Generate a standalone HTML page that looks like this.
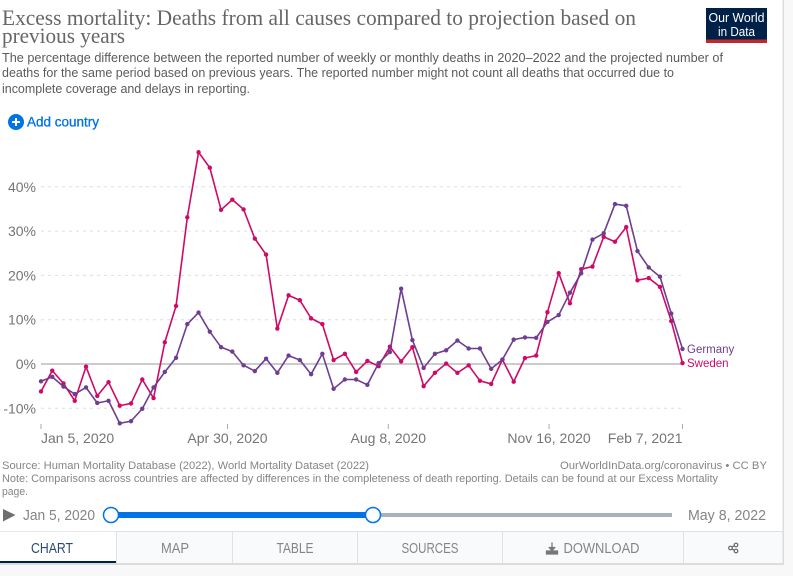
<!DOCTYPE html>
<html lang="en">
<head>
<meta charset="utf-8">
<title>Excess mortality chart</title>
<style>
html,body{margin:0;padding:0;width:793px;height:576px;overflow:hidden;background:#f8f8f8;}
svg{display:block;}
text{font-family:"Liberation Sans",sans-serif;}
.ttl{font-family:"Liberation Serif",serif;font-size:22px;fill:#666;}
.sub{font-size:12.5px;fill:#5b5b5b;}
.foot{font-size:11px;fill:#858585;}
.tab{font-size:14.5px;fill:#858585;text-anchor:middle;}
.tick{font-size:14px;fill:#757575;}
</style>
</head>
<body>
<svg id="root" xmlns="http://www.w3.org/2000/svg" width="793" height="576" viewBox="0 0 793 576">
  <rect x="0" y="0" width="793" height="576" fill="#f8f8f8"/>
  <rect x="0" y="0" width="784" height="565" fill="#dcdcdc"/>
  <rect x="0" y="0" width="782.5" height="563" fill="#ffffff"/>

  <text class="ttl" x="2" y="25" textLength="634" lengthAdjust="spacingAndGlyphs">Excess mortality: Deaths from all causes compared to projection based on</text>
  <text class="ttl" x="2" y="43" textLength="123" lengthAdjust="spacingAndGlyphs">previous years</text>
  <text class="sub" x="2" y="62" textLength="721" lengthAdjust="spacingAndGlyphs">The percentage difference between the reported number of weekly or monthly deaths in 2020–2022 and the projected number of</text>
  <text class="sub" x="2" y="77" textLength="672" lengthAdjust="spacingAndGlyphs">deaths for the same period based on previous years. The reported number might not count all deaths that occurred due to</text>
  <text class="sub" x="2" y="93" textLength="248" lengthAdjust="spacingAndGlyphs">incomplete coverage and delays in reporting.</text>

  <g>
    <rect x="706" y="8" width="61" height="35" fill="#002147"/>
    <rect x="706" y="39.5" width="61" height="3.5" fill="#c0282d"/>
    <text x="736.5" y="22" text-anchor="middle" font-size="13" fill="#fff" textLength="56" lengthAdjust="spacingAndGlyphs">Our World</text>
    <text x="736.5" y="36" text-anchor="middle" font-size="13" fill="#fff" textLength="37" lengthAdjust="spacingAndGlyphs">in Data</text>
  </g>

  <g>
    <circle cx="16" cy="122" r="8" fill="#0073e6"/>
    <path d="M16 118v8M12 122h8" stroke="#fff" stroke-width="2"/>
    <text x="27" y="126.5" font-size="13.5" fill="#0073e6" stroke="#0073e6" stroke-width="0.3" textLength="72" lengthAdjust="spacingAndGlyphs">Add country</text>
  </g>

  <g id="plot"></g>

  <text class="foot" x="2" y="469" textLength="367" lengthAdjust="spacingAndGlyphs">Source: Human Mortality Database (2022), World Mortality Dataset (2022)</text>
  <text class="foot" x="560" y="469" textLength="207" lengthAdjust="spacingAndGlyphs">OurWorldInData.org/coronavirus • CC BY</text>
  <text class="foot" x="2" y="482" textLength="716" lengthAdjust="spacingAndGlyphs">Note: Comparisons across countries are affected by differences in the completeness of death reporting. Details can be found at our Excess Mortality</text>
  <text class="foot" x="2" y="495" textLength="26" lengthAdjust="spacingAndGlyphs">page.</text>

  <g>
    <path d="M3 509L15.5 515L3 521.5Z" fill="#6e6e6e"/>
    <text x="23" y="520" font-size="14.5" fill="#858585" textLength="72" lengthAdjust="spacingAndGlyphs">Jan 5, 2020</text>
    <rect x="111" y="513" width="561" height="4" fill="#a7b2bf"/>
    <rect x="111" y="512" width="262" height="6" fill="#0073e6"/>
    <circle cx="111" cy="515" r="7.5" fill="#fff" stroke="#0073e6" stroke-width="1.5"/>
    <circle cx="373" cy="515" r="7.5" fill="#fff" stroke="#0073e6" stroke-width="1.5"/>
    <text x="688" y="520" font-size="14.5" fill="#858585" textLength="78" lengthAdjust="spacingAndGlyphs">May 8, 2022</text>
  </g>

  <g>
    <rect x="116" y="531" width="666.5" height="32" fill="#f9fafb"/>
    <path d="M116.5 531V563M232.5 531V563M357.5 531V563M502.5 531V563M683.5 531V563M116 531.5H782.5" stroke="#dfe1e4" stroke-width="1" fill="none"/>
    <path d="M0 531.5H116" stroke="#e8e8e8" stroke-width="1"/>
    <rect x="0" y="561" width="116" height="2" fill="#002147"/>
    <text class="tab" x="52" y="553" style="fill:#2d4a6e" textLength="42" lengthAdjust="spacingAndGlyphs">CHART</text>
    <text class="tab" x="175" y="553" textLength="28" lengthAdjust="spacingAndGlyphs">MAP</text>
    <text class="tab" x="295" y="553" textLength="37" lengthAdjust="spacingAndGlyphs">TABLE</text>
    <text class="tab" x="430" y="553" textLength="57" lengthAdjust="spacingAndGlyphs">SOURCES</text>
    <g>
      <path d="M552 542.5V550M548.8 547L552 550.5L555.2 547M546.5 551H557.5V554H546.5Z" stroke="#777" stroke-width="1.3" fill="#777"/>
      <text class="tab" x="601.5" y="553" textLength="76" lengthAdjust="spacingAndGlyphs">DOWNLOAD</text>
    </g>
    <g fill="none" stroke="#666" stroke-width="1.2">
      <circle cx="730.5" cy="548" r="1.8"/>
      <circle cx="736" cy="545" r="1.8"/>
      <circle cx="736" cy="551" r="1.8"/>
      <path d="M732 547L734.5 545.7M732 549L734.5 550.3"/>
    </g>
  </g>
</svg>
<script>
const startDate = "Jan 5, 2020";
const weekCount = 58;
const sweden = [-6.2,-1.5,-4.4,-8.3,-0.6,-7.2,-4.1,-9.4,-8.9,-3.5,-7.7,4.9,13.1,33.1,47.8,44.3,34.8,37.1,34.9,28.3,24.7,8.0,15.5,14.4,10.3,9.0,0.9,2.3,-1.8,0.7,-0.5,3.9,0.6,3.8,-5.0,-2.0,0.1,-2.0,-0.3,-3.8,-4.5,1.0,-4.0,1.35,1.9,11.7,20.5,13.7,21.4,22.0,28.7,27.6,30.9,18.9,19.4,17.4,9.7,0.2];
const germany = [-3.9,-2.9,-5.1,-6.8,-5.3,-8.8,-8.3,-13.4,-12.9,-10.1,-5.3,-1.8,1.4,9.0,11.6,7.3,3.8,2.8,-0.3,-1.6,1.2,-2.0,1.9,0.9,-2.3,2.3,-5.6,-3.5,-3.5,-4.7,0.2,2.7,17.0,5.4,-0.9,2.3,3.1,5.3,3.5,3.5,-1.1,1.0,5.5,6.0,5.9,9.5,11.05,16.1,20.5,28.1,29.5,36.1,35.7,25.5,21.8,19.7,11.4,3.4];
const yTickValues = [-10,0,10,20,30,40];
const yTickLabels = ["-10%","0%","10%","20%","30%","40%"];
const xTickDays = [0,116,216,316,399];
const xTickLabels = ["Jan 5, 2020","Apr 30, 2020","Aug 8, 2020","Nov 16, 2020","Feb 7, 2021"];
const seriesNames = ["Sweden","Germany"];

const NS = "http://www.w3.org/2000/svg";
const plot = document.getElementById("plot");
const X0 = 41, X1 = 682.5, LAST_DAY = 399;
const Y_ZERO = 364, PX_PER_PCT = 4.43;
const xScale = function (day) { return X0 + (X1 - X0) * day / LAST_DAY; };
const yScale = function (v) { return Y_ZERO - v * PX_PER_PCT; };
const colors = { Sweden: "#cf0a66", Germany: "#6d3e91" };

function make(tag, parent) {
  const el = document.createElementNS(NS, tag);
  parent.appendChild(el);
  return el;
}

const yAxis = make("g", plot);


yTickValues.forEach(function (v, i) {
  const y = yScale(v);
  const line = make("line", yAxis);
  
  
  line.setAttribute("x1", X0);
  line.setAttribute("x2", X1);
  line.setAttribute("y1", y);
  line.setAttribute("y2", y);
  line.setAttribute("stroke", v === 0 ? "#999" : "#ddd");
  line.setAttribute("stroke-width", "1");
  if (v !== 0) line.setAttribute("stroke-dasharray", "3 4");
  const t = make("text", yAxis);
  
  
  t.setAttribute("class", "tick");
  t.setAttribute("x", 36);
  t.setAttribute("y", y + 5);
  t.setAttribute("text-anchor", "end");
  t.textContent = yTickLabels[i];
});

const xAxis = make("g", plot);


xTickDays.forEach(function (d, i) {
  const x = xScale(d);
  const tick = make("line", xAxis);
  
  
  tick.setAttribute("x1", x);
  tick.setAttribute("x2", x);
  tick.setAttribute("y1", 424);
  tick.setAttribute("y2", 429);
  tick.setAttribute("stroke", "#aaa");
  const t = make("text", xAxis);
  
  
  t.setAttribute("class", "tick");
  t.setAttribute("y", 443);
  const anchor = i === 0 ? "start" : (i === xTickDays.length - 1 ? "end" : "middle");
  t.setAttribute("text-anchor", anchor);
  t.setAttribute("x", x);
  t.textContent = xTickLabels[i];
});

function drawSeries(name, values, labelY) {
  const g = make("g", plot);
  
  
  const pts = values.slice(0, weekCount).map(function (v, i) {
    return [xScale(i * 7), yScale(v)];
  });
  const line = make("polyline", g);
  
  
  line.setAttribute("points", pts.map(function (p) { return p[0].toFixed(2) + "," + p[1].toFixed(2); }).join(" "));
  line.setAttribute("fill", "none");
  line.setAttribute("stroke", colors[name]);
  line.setAttribute("stroke-width", "1.6");
  line.setAttribute("stroke-linejoin", "round");
  pts.forEach(function (p) {
    const c = make("circle", g);
    
    
    c.setAttribute("cx", p[0]);
    c.setAttribute("cy", p[1]);
    c.setAttribute("r", "2.2");
    c.setAttribute("fill", colors[name]);
  });
  const label = make("text", g);
  
  
  label.setAttribute("x", 687);
  label.setAttribute("y", labelY);
  label.setAttribute("font-size", "11.5");
  label.setAttribute("fill", colors[name]);
  label.textContent = name;
}

drawSeries(seriesNames[0], sweden, 367);
drawSeries(seriesNames[1], germany, 353);
</script>
</body>
</html>
